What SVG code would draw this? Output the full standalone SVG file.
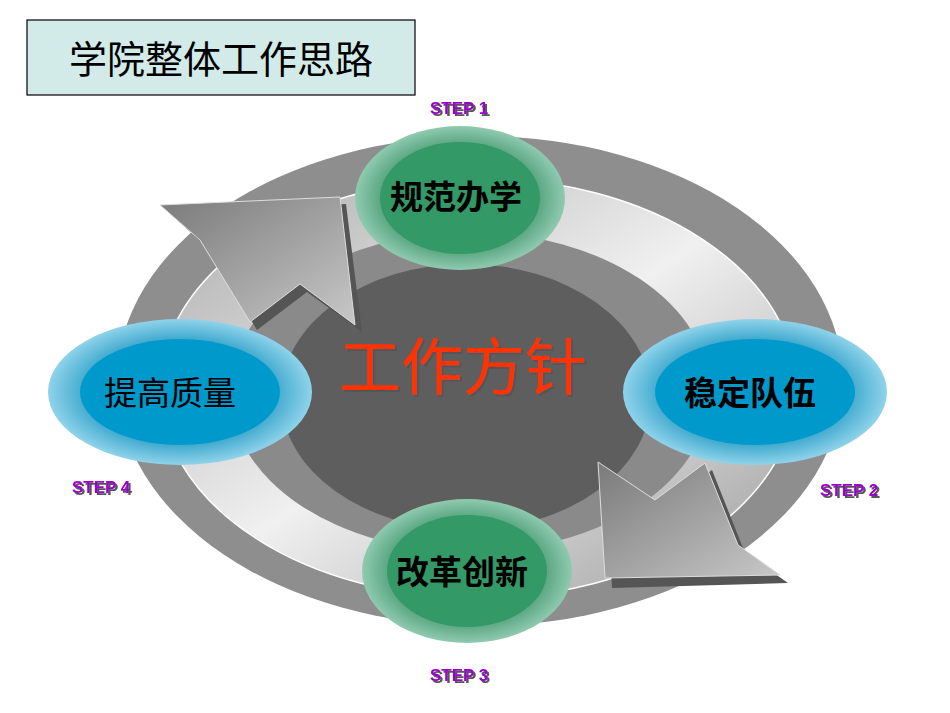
<svg xmlns="http://www.w3.org/2000/svg" width="950" height="713" viewBox="0 0 950 713">
<defs>
<linearGradient id="band" x1="0" y1="0" x2="1" y2="1"><stop offset="0" stop-color="#a8a8a8"/><stop offset="0.5" stop-color="#f0f0f0"/><stop offset="1" stop-color="#9a9a9a"/></linearGradient>
<linearGradient id="arr" x1="0" y1="0" x2="1" y2="1"><stop offset="0" stop-color="#7a7a7a"/><stop offset="1" stop-color="#c8c8c8"/></linearGradient>
<radialGradient id="gring" cx="0.5" cy="0.5" r="0.5"><stop offset="0.7" stop-color="#4f9f78"/><stop offset="1" stop-color="#8fcab0"/></radialGradient>
<radialGradient id="bring" cx="0.5" cy="0.5" r="0.5"><stop offset="0.7" stop-color="#3aa6cc"/><stop offset="1" stop-color="#8fd3ea"/></radialGradient>
<filter id="sh"><feDropShadow dx="2" dy="2" stdDeviation="0" flood-color="#555"/></filter>
</defs>
<style>
.step{font-family:"Liberation Sans",Arial,sans-serif;font-weight:bold;font-size:17px;fill:#9900cc;filter:url(#sh)}
.lbl{font-family:"Noto Sans CJK SC",sans-serif;font-size:33px;fill:#000;text-anchor:middle;font-weight:bold}
</style>
<rect width="950" height="713" fill="#fff"/>
<g id="title"><rect x="27" y="20" width="388" height="75" fill="#d2ebe9" stroke="#000" stroke-width="1.2"/>
<text x="221" y="73" font-family="Noto Sans CJK SC,sans-serif" font-size="38" text-anchor="middle">学院整体工作思路</text></g>
<g id="ring">
<ellipse cx="480" cy="381" rx="363" ry="245" fill="#8e8e8e"/>
<ellipse cx="478" cy="388" rx="318" ry="210" fill="url(#band)" stroke="#fff" stroke-width="1.5"/>
<ellipse cx="470" cy="392" rx="240" ry="160" fill="#8a8a8a"/>
<ellipse cx="466" cy="397" rx="185" ry="133" fill="#5e5e5e"/>
</g>
<g id="connectors">
<polygon points="168,212 346,204 362,332 307,292 257,330 206,246" fill="#555"/>
<polygon points="160,205 340,197 355,325 300,284 250,322 200,240" fill="url(#arr)" stroke="#ddd"/>
<polygon points="606,470 612,588 788,583 745,553 712,470 662,508" fill="#555"/>
<polygon points="598,462 605,578 780,575 738,545 705,463 655,500" fill="url(#arr)" stroke="#ddd"/>
</g>
<g id="n1"><ellipse cx="460" cy="198" rx="105" ry="72" fill="url(#gring)"/><ellipse cx="460" cy="198" rx="80" ry="56" fill="#339966"/><text class="lbl" x="456" y="209">规范办学</text></g>
<g id="n2"><ellipse cx="755" cy="392" rx="132" ry="73" fill="url(#bring)"/><ellipse cx="755" cy="392" rx="100" ry="53" fill="#0099cc"/><text class="lbl" x="750" y="405">稳定队伍</text></g>
<g id="n3"><ellipse cx="467" cy="571" rx="105" ry="72" fill="url(#gring)"/><ellipse cx="467" cy="571" rx="80" ry="56" fill="#339966"/><text class="lbl" x="462" y="584">改革创新</text></g>
<g id="n4"><ellipse cx="180" cy="392" rx="132" ry="73" fill="url(#bring)"/><ellipse cx="180" cy="392" rx="100" ry="53" fill="#0099cc"/><text class="lbl" x="170" y="405" style="font-weight:normal">提高质量</text></g>
<g id="center"><text x="463" y="390" font-family="Noto Sans CJK SC,serif" font-size="62" fill="#ff3300" text-anchor="middle" filter="url(#sh)">工作方针</text></g>
<text class="step" x="430" y="114">STEP 1</text>
<text class="step" x="820" y="496">STEP 2</text>
<text class="step" x="430" y="681">STEP 3</text>
<text class="step" x="72" y="493">STEP 4</text>
</svg>
